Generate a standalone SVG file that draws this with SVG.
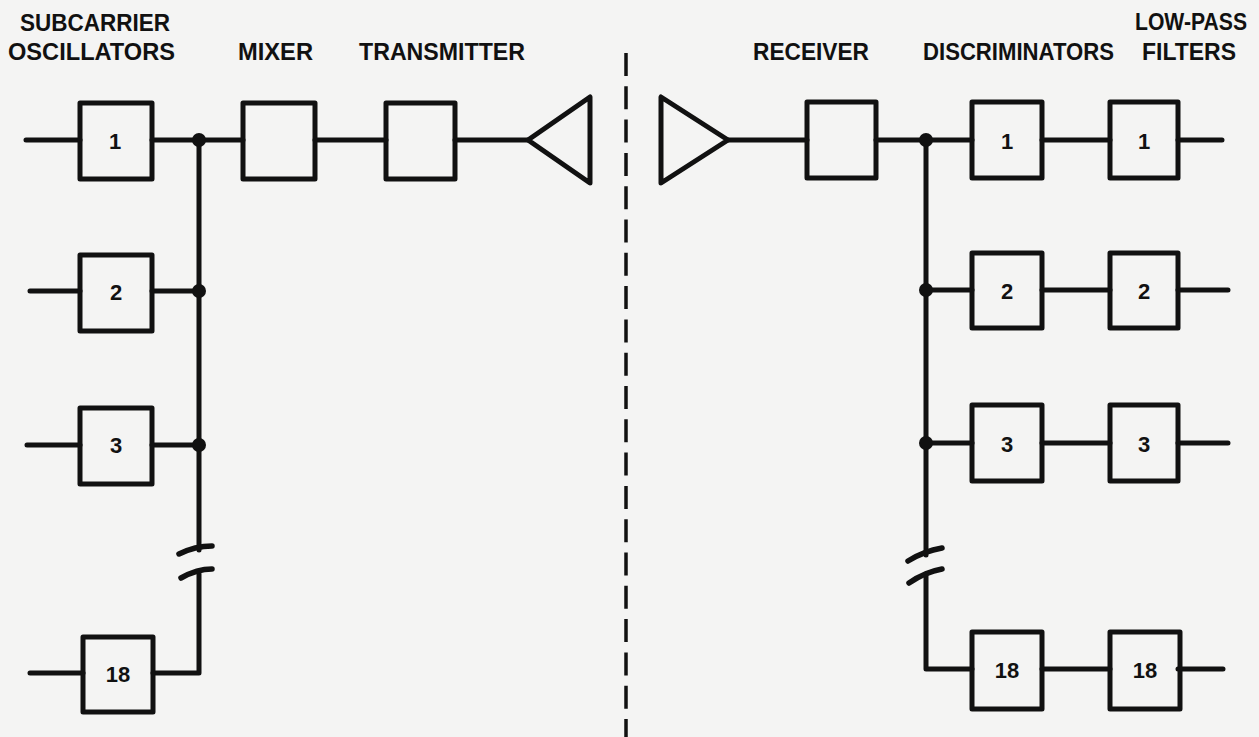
<svg xmlns="http://www.w3.org/2000/svg" width="1259" height="737" viewBox="0 0 1259 737">
<style>
.bg{fill:#f4f4f3}
.box{fill:none;stroke:#111;stroke-width:5;stroke-linejoin:round}
.ln{fill:none;stroke:#111;stroke-width:5;stroke-linecap:round;stroke-linejoin:round}
.tick{fill:none;stroke:#111;stroke-width:5.5;stroke-linecap:round}
.dash{fill:none;stroke:#111;stroke-width:3.5;stroke-dasharray:23 10.3}
.lbl{font-family:"Liberation Sans",Arial,sans-serif;font-weight:bold;font-size:23px;fill:#111}
.num{font-family:"Liberation Sans",Arial,sans-serif;font-weight:bold;font-size:22px;fill:#111;text-anchor:middle}
.dot{fill:#111}
</style>
<rect class="bg" x="0" y="0" width="1259" height="737"/>

<g id="labels">
<text class="lbl" x="20" y="31" textLength="150" lengthAdjust="spacingAndGlyphs">SUBCARRIER</text>
<text class="lbl" x="8" y="60" textLength="167" lengthAdjust="spacingAndGlyphs">OSCILLATORS</text>
<text class="lbl" x="238" y="60" textLength="75" lengthAdjust="spacingAndGlyphs">MIXER</text>
<text class="lbl" x="359" y="60" textLength="166" lengthAdjust="spacingAndGlyphs">TRANSMITTER</text>
<text class="lbl" x="753" y="60" textLength="116" lengthAdjust="spacingAndGlyphs">RECEIVER</text>
<text class="lbl" x="923" y="60" textLength="191" lengthAdjust="spacingAndGlyphs">DISCRIMINATORS</text>
<text class="lbl" x="1135" y="30" textLength="112" lengthAdjust="spacingAndGlyphs">LOW-PASS</text>
<text class="lbl" x="1142" y="60" textLength="94" lengthAdjust="spacingAndGlyphs">FILTERS</text>
</g>

<g id="connectors">
<path class="ln" d="M26 140 H80 M152 140 H243 M315 140 H386 M455 140 H528"/>
<path class="ln" d="M30 291 H80 M152 291 H199"/>
<path class="ln" d="M27 445 H80 M152 445 H199"/>
<path class="ln" d="M30 673 H83 M153 673 H199 V574"/>
<path class="ln" d="M199 140 V550"/>
<path class="tick" d="M179 554 Q195 546 212 546"/>
<path class="tick" d="M181 578 Q197 569 212 569"/>
<circle class="dot" cx="199" cy="140" r="7"/>
<circle class="dot" cx="199" cy="291" r="7"/>
<circle class="dot" cx="199" cy="445" r="7"/>
<path class="dash" d="M626 53 V737"/>
<path class="ln" d="M728 140 H807 M876 140 H972 M1042 140 H1110 M1178 140 H1222"/>
<path class="ln" d="M926 290 H972 M1042 290 H1110 M1178 290 H1228"/>
<path class="ln" d="M926 443 H972 M1042 443 H1110 M1178 443 H1228"/>
<path class="ln" d="M926 574 V669 H972 M1042 669 H1110 M1178 669 H1223"/>
<path class="ln" d="M926 140 V555"/>
<path class="tick" d="M908 561 Q924 551 942 548"/>
<path class="tick" d="M909 583 Q925 572 942 569"/>
<circle class="dot" cx="926" cy="140" r="7"/>
<circle class="dot" cx="926" cy="290" r="7"/>
<circle class="dot" cx="926" cy="443" r="7"/>
</g>

<g id="osc1"><rect class="box" x="80" y="103" width="72" height="76"/><text class="num" x="115" y="149">1</text></g>
<g id="osc2"><rect class="box" x="80" y="255" width="72" height="76"/><text class="num" x="116" y="300">2</text></g>
<g id="osc3"><rect class="box" x="80" y="408" width="72" height="76"/><text class="num" x="116" y="453">3</text></g>
<g id="osc18"><rect class="box" x="83" y="637" width="70" height="75"/><text class="num" x="118" y="682">18</text></g>
<g id="mixer"><rect class="box" x="243" y="103" width="72" height="76"/></g>
<g id="transmitter"><rect class="box" x="386" y="103" width="69" height="76"/></g>
<g id="tx-antenna"><polygon class="box" points="528,140 590,97 590,183"/></g>

<g id="rx-antenna"><polygon class="box" points="661,97 661,183 728,140"/></g>
<g id="receiver"><rect class="box" x="807" y="102" width="69" height="76"/></g>
<g id="disc1"><rect class="box" x="972" y="102" width="70" height="76"/><text class="num" x="1007" y="149">1</text></g>
<g id="disc2"><rect class="box" x="972" y="253" width="70" height="75"/><text class="num" x="1007" y="299">2</text></g>
<g id="disc3"><rect class="box" x="972" y="405" width="70" height="76"/><text class="num" x="1007" y="452">3</text></g>
<g id="disc18"><rect class="box" x="972" y="632" width="70" height="77"/><text class="num" x="1007" y="678">18</text></g>
<g id="lpf1"><rect class="box" x="1110" y="102" width="68" height="76"/><text class="num" x="1144" y="149">1</text></g>
<g id="lpf2"><rect class="box" x="1110" y="253" width="68" height="75"/><text class="num" x="1144" y="299">2</text></g>
<g id="lpf3"><rect class="box" x="1110" y="405" width="68" height="76"/><text class="num" x="1144" y="452">3</text></g>
<g id="lpf18"><rect class="box" x="1110" y="632" width="70" height="77"/><text class="num" x="1145" y="678">18</text></g>
</svg>
